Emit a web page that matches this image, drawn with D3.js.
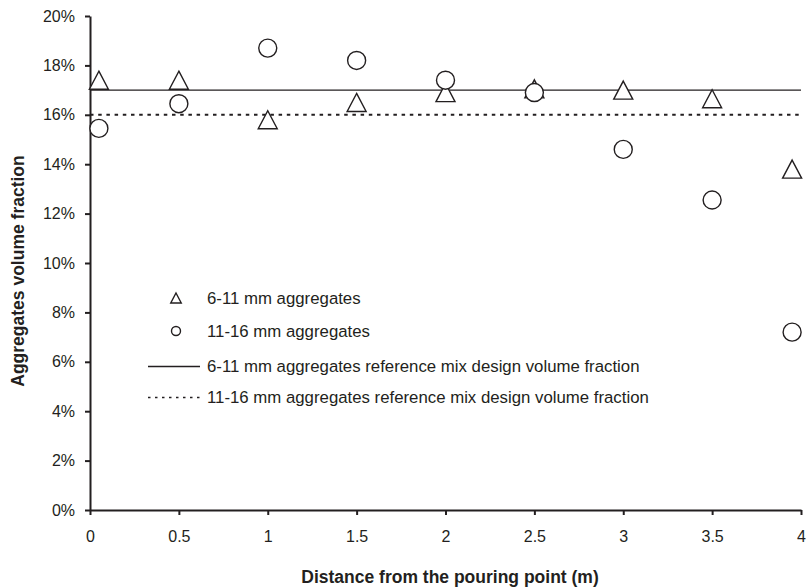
<!DOCTYPE html>
<html lang="en">
<head>
    <meta charset="UTF-8">
    <title>Aggregates volume fraction</title>
    <script src="https://cdn.jsdelivr.net/npm/d3@7"></script>
</head>
<body>
<style>
    body {
        margin: 0;
        background-color: white;
    }

    svg {
        display: block;
        width: 807px;
        height: 588px;
        font-family: "Liberation Sans", Arial, sans-serif;
    }

    .axis path,
    .axis line {
        fill: none;
        stroke: #231f20;
        stroke-width: 2px;
    }

    .axis text {
        font-size: 16px;
        fill: #231f20;
    }

    .title {
        font-size: 17.5px;
        font-weight: bold;
        fill: #231f20;
    }

    .legendText {
        font-size: 16.8px;
        fill: #231f20;
    }

    .marker {
        fill: white;
        stroke: #231f20;
        stroke-width: 1.4px;
    }
</style>

<svg></svg>

<script>
    // distance from the pouring point (m)
    var distances = [0.05, 0.5, 1, 1.5, 2, 2.5, 3, 3.5, 3.95];
    // measured volume fractions (%)
    var agg611 = [17.4, 17.4, 15.8, 16.5, 16.9, 17.05, 17.0, 16.65, 13.8];
    var agg1116 = [15.45, 16.45, 18.7, 18.2, 17.4, 16.9, 14.6, 12.55, 7.2];
    // reference mix design (%)
    var ref611 = 17;
    var ref1116 = 16;

    var xTicks = [0, 0.5, 1, 1.5, 2, 2.5, 3, 3.5, 4];
    var yTicks = [0, 2, 4, 6, 8, 10, 12, 14, 16, 18, 20];

    var legendLabels = [
        "6-11 mm aggregates",
        "11-16 mm aggregates",
        "6-11 mm aggregates reference mix design volume fraction",
        "11-16 mm aggregates reference mix design volume fraction"
    ];

    var svg = d3.select("svg");

    var getX = d3.scaleLinear()
            .domain([0, 4])
            .range([90, 801]);
    var getY = d3.scaleLinear()
            .domain([0, 20])
            .range([510, 16]);

    var axisX = d3.axisBottom(getX)
            .tickValues(xTicks)
            .tickFormat(function (d) { return String(d); })
            .tickSize(5)
            .tickPadding(16)
            .tickSizeOuter(0);
    var axisY = d3.axisLeft(getY)
            .tickValues(yTicks)
            .tickFormat(function (d) { return d + "%"; })
            .tickSize(5)
            .tickPadding(10)
            .tickSizeOuter(0);

    // reference lines first, markers go on top of them
    svg.append("line")
            .attr("x1", getX(0))
            .attr("x2", getX(4))
            .attr("y1", getY(ref611))
            .attr("y2", getY(ref611))
            .attr("stroke", "#231f20")
            .attr("stroke-width", 1.4);
    svg.append("line")
            .attr("x1", getX(0))
            .attr("x2", getX(4))
            .attr("y1", getY(ref1116))
            .attr("y2", getY(ref1116))
            .attr("stroke", "#231f20")
            .attr("stroke-width", 2)
            .attr("stroke-dasharray", "3.5,4.7");

    svg.append("g")
            .attr("class", "axis")
            .attr("transform", "translate(0," + getY(0) + ")")
            .call(axisX);
    svg.append("g")
            .attr("class", "axis")
            .attr("transform", "translate(" + getX(0) + ",0)")
            .call(axisY);

    function triPath(w) {
        var h = w * 0.95;
        return "M0," + (-h / 2) + "L" + (w / 2) + "," + (h / 2) + "L" + (-w / 2) + "," + (h / 2) + "Z";
    }

    svg.selectAll(".tri")
            .data(distances)
            .enter()
            .append("path")
            .attr("class", "marker tri")
            .attr("d", triPath(19))
            .attr("transform", function (d, i) {
                return "translate(" + getX(d) + "," + getY(agg611[i]) + ")";
            });

    svg.selectAll(".circ")
            .data(distances)
            .enter()
            .append("circle")
            .attr("class", "marker circ")
            .attr("cx", function (d) { return getX(d); })
            .attr("cy", function (d, i) { return getY(agg1116[i]); })
            .attr("r", 9);

    // axis titles
    svg.append("text")
            .attr("class", "title")
            .attr("text-anchor", "middle")
            .attr("x", 450)
            .attr("y", 583)
            .text("Distance from the pouring point (m)");
    svg.append("text")
            .attr("class", "title")
            .attr("text-anchor", "middle")
            .attr("transform", "translate(24,271) rotate(-90)")
            .text("Aggregates volume fraction");

    // legend
    var legendY = [298, 331, 366.5, 397.5];
    var legend = svg.append("g");
    legend.append("path")
            .attr("class", "marker")
            .attr("d", triPath(10.5))
            .attr("transform", "translate(176," + legendY[0] + ")");
    legend.append("circle")
            .attr("class", "marker")
            .attr("cx", 176)
            .attr("cy", legendY[1])
            .attr("r", 4.5);
    legend.append("line")
            .attr("x1", 148).attr("x2", 200)
            .attr("y1", legendY[2]).attr("y2", legendY[2])
            .attr("stroke", "#231f20")
            .attr("stroke-width", 1.4);
    legend.append("line")
            .attr("x1", 148).attr("x2", 200)
            .attr("y1", legendY[3]).attr("y2", legendY[3])
            .attr("stroke", "#231f20")
            .attr("stroke-width", 1.6)
            .attr("stroke-dasharray", "2.5,4.5");
    legend.selectAll(".legendText")
            .data(legendLabels)
            .enter()
            .append("text")
            .attr("class", "legendText")
            .attr("x", 207)
            .attr("y", function (d, i) { return legendY[i]; })
            .attr("dy", "0.35em")
            .text(function (d) { return d; });
</script>
</body>
</html>
